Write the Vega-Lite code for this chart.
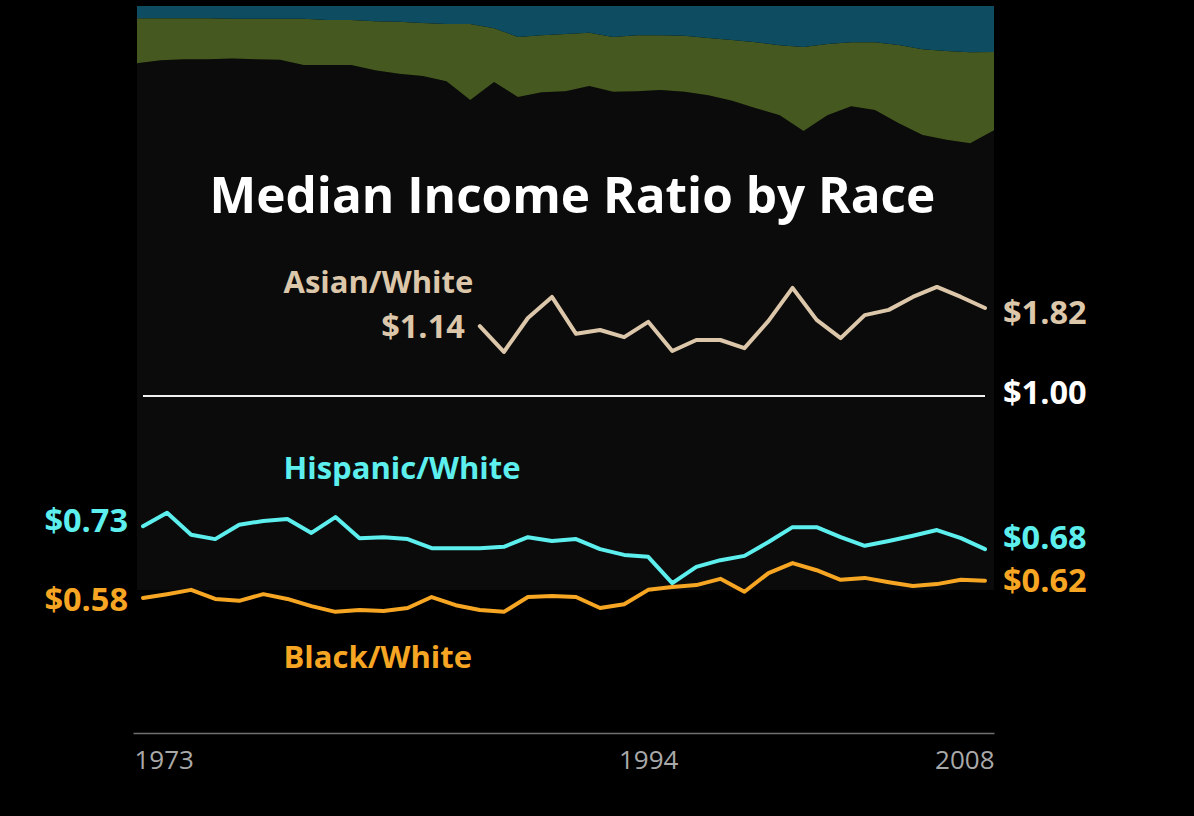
{
  "$schema": "https://vega.github.io/schema/vega-lite/v6.json",
  "width": 861,
  "height": 727,
  "autosize": {"type": "none"},
  "padding": {"left": 133, "top": 6, "right": 200, "bottom": 83},
  "background": "#000000",
  "config": {"view": {"stroke": null}, "font": "Open Sans"},
  "datasets": {
    "shares": [
      {"year": 1972, "White": 90.2, "Minority": 7.7, "Asian": 2.1},
      {"year": 1973, "White": 90.7, "Minority": 7.2, "Asian": 2.1},
      {"year": 1974, "White": 90.9, "Minority": 7.0, "Asian": 2.1},
      {"year": 1975, "White": 90.9, "Minority": 7.0, "Asian": 2.1},
      {"year": 1976, "White": 90.9, "Minority": 6.8, "Asian": 2.2},
      {"year": 1977, "White": 90.8, "Minority": 6.9, "Asian": 2.2},
      {"year": 1978, "White": 90.8, "Minority": 7.0, "Asian": 2.2},
      {"year": 1979, "White": 89.9, "Minority": 7.9, "Asian": 2.2},
      {"year": 1980, "White": 89.9, "Minority": 7.7, "Asian": 2.4},
      {"year": 1981, "White": 89.9, "Minority": 7.7, "Asian": 2.4},
      {"year": 1982, "White": 89.0, "Minority": 8.4, "Asian": 2.6},
      {"year": 1983, "White": 88.4, "Minority": 8.9, "Asian": 2.7},
      {"year": 1984, "White": 88.0, "Minority": 9.1, "Asian": 2.9},
      {"year": 1985, "White": 87.2, "Minority": 9.8, "Asian": 3.1},
      {"year": 1986, "White": 83.9, "Minority": 13.0, "Asian": 3.1},
      {"year": 1987, "White": 87.0, "Minority": 9.2, "Asian": 3.8},
      {"year": 1988, "White": 84.4, "Minority": 10.3, "Asian": 5.3},
      {"year": 1989, "White": 85.3, "Minority": 9.8, "Asian": 5.0},
      {"year": 1990, "White": 85.4, "Minority": 9.8, "Asian": 4.8},
      {"year": 1991, "White": 86.3, "Minority": 9.1, "Asian": 4.6},
      {"year": 1992, "White": 85.3, "Minority": 9.4, "Asian": 5.3},
      {"year": 1993, "White": 85.4, "Minority": 9.6, "Asian": 5.0},
      {"year": 1994, "White": 85.6, "Minority": 9.4, "Asian": 5.0},
      {"year": 1995, "White": 85.3, "Minority": 9.6, "Asian": 5.1},
      {"year": 1996, "White": 84.8, "Minority": 9.8, "Asian": 5.5},
      {"year": 1997, "White": 83.7, "Minority": 10.4, "Asian": 5.8},
      {"year": 1998, "White": 82.5, "Minority": 11.3, "Asian": 6.2},
      {"year": 1999, "White": 81.3, "Minority": 12.0, "Asian": 6.7},
      {"year": 2000, "White": 78.6, "Minority": 14.4, "Asian": 7.0},
      {"year": 2001, "White": 81.3, "Minority": 12.2, "Asian": 6.5},
      {"year": 2002, "White": 82.9, "Minority": 11.0, "Asian": 6.2},
      {"year": 2003, "White": 82.2, "Minority": 11.6, "Asian": 6.2},
      {"year": 2004, "White": 80.0, "Minority": 13.4, "Asian": 6.7},
      {"year": 2005, "White": 77.9, "Minority": 14.7, "Asian": 7.4},
      {"year": 2006, "White": 77.1, "Minority": 15.2, "Asian": 7.7},
      {"year": 2007, "White": 76.5, "Minority": 15.6, "Asian": 7.9},
      {"year": 2008, "White": 78.8, "Minority": 13.4, "Asian": 7.9}
    ],
    "ratios": [
      {"year": 1973, "Hispanic": 0.728, "Black": 0.578},
      {"year": 1974, "Hispanic": 0.756, "Black": 0.586},
      {"year": 1975, "Hispanic": 0.710, "Black": 0.595},
      {"year": 1976, "Hispanic": 0.701, "Black": 0.576},
      {"year": 1977, "Hispanic": 0.731, "Black": 0.572},
      {"year": 1978, "Hispanic": 0.739, "Black": 0.586},
      {"year": 1979, "Hispanic": 0.743, "Black": 0.576},
      {"year": 1980, "Hispanic": 0.714, "Black": 0.561},
      {"year": 1981, "Hispanic": 0.747, "Black": 0.549},
      {"year": 1982, "Hispanic": 0.703, "Black": 0.553},
      {"year": 1983, "Hispanic": 0.705, "Black": 0.551},
      {"year": 1984, "Hispanic": 0.701, "Black": 0.557},
      {"year": 1985, "Hispanic": 0.682, "Black": 0.580},
      {"year": 1986, "Hispanic": 0.682, "Black": 0.563},
      {"year": 1987, "Hispanic": 0.682, "Black": 0.553, "Asian": 1.146},
      {"year": 1988, "Hispanic": 0.685, "Black": 0.549, "Asian": 1.092},
      {"year": 1989, "Hispanic": 0.705, "Black": 0.580, "Asian": 1.163},
      {"year": 1990, "Hispanic": 0.697, "Black": 0.582, "Asian": 1.207},
      {"year": 1991, "Hispanic": 0.701, "Black": 0.580, "Asian": 1.130},
      {"year": 1992, "Hispanic": 0.680, "Black": 0.557, "Asian": 1.138},
      {"year": 1993, "Hispanic": 0.668, "Black": 0.565, "Asian": 1.123},
      {"year": 1994, "Hispanic": 0.664, "Black": 0.595, "Asian": 1.155},
      {"year": 1995, "Hispanic": 0.609, "Black": 0.601, "Asian": 1.094},
      {"year": 1996, "Hispanic": 0.643, "Black": 0.605, "Asian": 1.117},
      {"year": 1997, "Hispanic": 0.657, "Black": 0.618, "Asian": 1.117},
      {"year": 1998, "Hispanic": 0.666, "Black": 0.591, "Asian": 1.100},
      {"year": 1999, "Hispanic": 0.695, "Black": 0.630, "Asian": 1.157},
      {"year": 2000, "Hispanic": 0.726, "Black": 0.651, "Asian": 1.226},
      {"year": 2001, "Hispanic": 0.726, "Black": 0.636, "Asian": 1.159},
      {"year": 2002, "Hispanic": 0.705, "Black": 0.616, "Asian": 1.121},
      {"year": 2003, "Hispanic": 0.687, "Black": 0.620, "Asian": 1.169},
      {"year": 2004, "Hispanic": 0.697, "Black": 0.611, "Asian": 1.180},
      {"year": 2005, "Hispanic": 0.708, "Black": 0.603, "Asian": 1.207},
      {"year": 2006, "Hispanic": 0.720, "Black": 0.607, "Asian": 1.228},
      {"year": 2007, "Hispanic": 0.703, "Black": 0.616, "Asian": 1.207},
      {"year": 2008, "Hispanic": 0.680, "Black": 0.614, "Asian": 1.184}
    ],
    "ref": [
      {"year": 1973, "year2": 2008, "value": 1.0}
    ],
    "notes": [
      {"kind": "title", "label": "Median Income Ratio by Race", "series": "Plain", "year": 1990.85, "value": 1.3824},
      {"kind": "name", "label": "Asian/White", "series": "Asian", "year": 1978.84, "value": 1.2152},
      {"kind": "name", "label": "Hispanic/White", "series": "Hispanic", "year": 1978.84, "value": 0.8266},
      {"kind": "name", "label": "Black/White", "series": "Black", "year": 1978.84, "value": 0.4317},
      {"kind": "left", "label": "$1.14", "series": "Asian", "year": 1987, "value": 1.1212},
      {"kind": "left", "label": "$0.73", "series": "Hispanic", "year": 1973, "value": 0.7158},
      {"kind": "left", "label": "$0.58", "series": "Black", "year": 1973, "value": 0.5508},
      {"kind": "right", "label": "$1.82", "series": "Asian", "year": 2008, "value": 1.1504},
      {"kind": "right", "label": "$1.00", "series": "Plain", "year": 2008, "value": 0.9833},
      {"kind": "right", "label": "$0.68", "series": "Hispanic", "year": 2008, "value": 0.6803},
      {"kind": "right", "label": "$0.62", "series": "Black", "year": 2008, "value": 0.5905}
    ]
  },
  "resolve": {
    "scale": {"x": "independent", "y": "independent", "color": "independent"},
    "axis": {"x": "independent", "y": "independent"}
  },
  "layer": [
    {
      "data": {"name": "shares"},
      "transform": [{"fold": ["White", "Minority", "Asian"], "as": ["group", "share"]}],
      "mark": {"type": "area", "interpolate": "linear"},
      "encoding": {
        "x": {"field": "year", "type": "quantitative", "scale": {"domain": [1971.832, 2008], "nice": false, "zero": false}, "axis": null},
        "y": {"field": "share", "type": "quantitative", "stack": "normalize", "scale": {"domain": [-0.24486, 1], "nice": false, "zero": false}, "axis": null},
        "color": {"field": "group", "type": "nominal", "scale": {"domain": ["White", "Minority", "Asian"], "range": ["#0b0b0b", "#44581f", "#0d4c61"]}, "legend": null},
        "order": {"field": "group", "type": "nominal", "sort": "descending"}
      }
    },
    {
      "encoding": {
        "x": {
          "field": "year", "type": "quantitative",
          "scale": {"domain": [1972.584, 2008.374], "nice": false, "zero": false},
          "axis": {
            "orient": "bottom", "values": [1973, 1994, 2008], "format": "d", "title": null,
            "ticks": false, "grid": false, "domainColor": "#707070", "domainWidth": 1.5,
            "labelColor": "#a9a9a9", "labelFontSize": 26, "labelFont": "Open Sans",
            "labelPadding": 14, "labelFlush": 15, "labelFlushOffset": 9
          }
        },
        "y": {"field": "value", "type": "quantitative", "scale": {"domain": [0.2959, 1.8149], "nice": false, "zero": false}, "axis": null},
        "color": {"field": "series", "type": "nominal", "scale": {"domain": ["Asian", "Hispanic", "Black", "Plain"], "range": ["#dcc7aa", "#5cefee", "#f6a623", "#ffffff"]}, "legend": null}
      },
      "layer": [
        {
          "data": {"name": "ref"},
          "mark": {"type": "rule", "strokeWidth": 2},
          "encoding": {"x2": {"field": "year2"}, "color": {"value": "#f2f2f2"}}
        },
        {
          "data": {"name": "ratios"},
          "transform": [
            {"fold": ["Asian", "Hispanic", "Black"], "as": ["series", "value"]},
            {"filter": "isValid(datum.value)"}
          ],
          "mark": {"type": "line", "strokeWidth": 4, "strokeJoin": "round", "strokeCap": "round"},
          "encoding": {"detail": {"field": "series"}}
        },
        {
          "data": {"name": "notes"},
          "transform": [{"filter": "datum.kind === 'title'"}],
          "mark": {"type": "text", "align": "center", "baseline": "alphabetic", "fontSize": 49.5, "fontWeight": "bold", "font": "Open Sans"},
          "encoding": {"text": {"field": "label"}}
        },
        {
          "data": {"name": "notes"},
          "transform": [{"filter": "datum.kind === 'name'"}],
          "mark": {"type": "text", "align": "left", "baseline": "alphabetic", "fontSize": 31, "fontWeight": "bold", "font": "Open Sans"},
          "encoding": {"text": {"field": "label"}}
        },
        {
          "data": {"name": "notes"},
          "transform": [{"filter": "datum.kind === 'right'"}],
          "mark": {"type": "text", "align": "left", "baseline": "alphabetic", "dx": 18, "fontSize": 32.5, "fontWeight": "bold", "font": "Open Sans"},
          "encoding": {"text": {"field": "label"}}
        },
        {
          "data": {"name": "notes"},
          "transform": [{"filter": "datum.kind === 'left'"}],
          "mark": {"type": "text", "align": "right", "baseline": "alphabetic", "dx": -15, "fontSize": 32.5, "fontWeight": "bold", "font": "Open Sans"},
          "encoding": {"text": {"field": "label"}}
        }
      ]
    }
  ]
}
